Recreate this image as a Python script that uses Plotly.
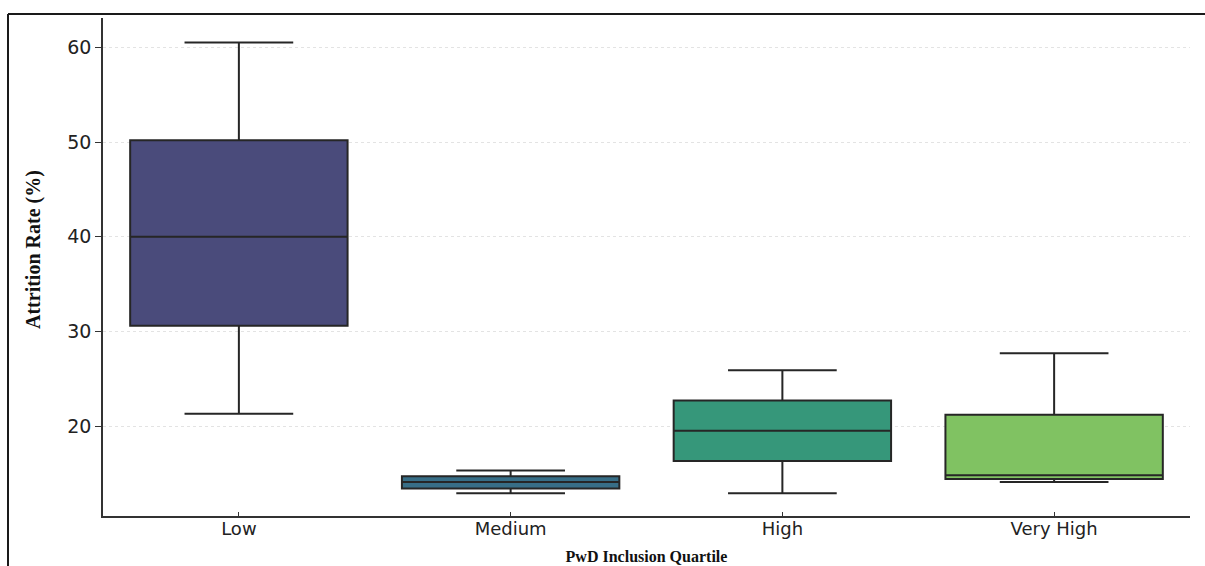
import plotly.graph_objects as go

# Attrition rate summary statistics per PwD inclusion quartile
categories = ["Low", "Medium", "High", "Very High"]
lower_whisker = [21.3, 12.9, 12.9, 14.1]
q1_values = [30.6, 13.4, 16.3, 14.4]
medians = [40.0, 14.1, 19.5, 14.8]
q3_values = [50.2, 14.7, 22.7, 21.2]
upper_whisker = [60.5, 15.3, 25.9, 27.7]
fill_colors = ["#4a4b7b", "#376e87", "#36977a", "#80c262"]
y_ticks = [20, 30, 40, 50, 60]

fig = go.Figure()
for i, cat in enumerate(categories):
    fig.add_trace(go.Box(
        x=[cat],
        q1=[q1_values[i]],
        median=[medians[i]],
        q3=[q3_values[i]],
        lowerfence=[lower_whisker[i]],
        upperfence=[upper_whisker[i]],
        fillcolor=fill_colors[i],
        line=dict(color="#262626", width=2),
        width=0.8,
        whiskerwidth=0.5,
        boxpoints=False,
        showlegend=False,
        hoverinfo="skip",
    ))

# outer frame: only the top and left edges fall inside the canvas
frame_left = (8 - 103) / 1087
frame_right = (1205 - 103) / 1087
frame_top = (516 - 14) / 498

fig.update_layout(
    width=1205,
    height=566,
    margin=dict(l=103, r=15, t=18, b=50, autoexpand=False),
    paper_bgcolor="white",
    plot_bgcolor="white",
    boxmode="overlay",
    font=dict(family="DejaVu Sans", color="#222222"),
    xaxis=dict(
        categoryorder="array",
        categoryarray=categories,
        range=[-0.5, 3.5],
        showline=True,
        linecolor="#333333",
        linewidth=1.5,
        ticks="inside",
        ticklen=4,
        tickcolor="#333333",
        ticklabelstandoff=-4,
        tickfont=dict(size=18, family="DejaVu Sans", color="#222222"),
        showgrid=False,
        zeroline=False,
        automargin=False,
        title=dict(
            text="<b>PwD Inclusion Quartile</b>",
            font=dict(family="Liberation Serif", size=16, color="#111111"),
            standoff=12,
        ),
    ),
    yaxis=dict(
        range=[10.5, 63.1],
        tickvals=y_ticks,
        showline=True,
        linecolor="#333333",
        linewidth=1.5,
        ticks="outside",
        ticklen=6,
        tickcolor="#333333",
        tickfont=dict(size=19, family="DejaVu Sans", color="#222222"),
        showgrid=True,
        gridcolor="rgba(215,215,215,0.7)",
        griddash="dot",
        gridwidth=1,
        zeroline=False,
        automargin=False,
        layer="above traces",
    ),
    annotations=[
        dict(
            text="<b>Attrition Rate (%)</b>",
            textangle=-90,
            xref="paper", yref="paper",
            x=(33 - 103) / 1087, y=(516 - 250) / 498,
            xanchor="center", yanchor="middle",
            showarrow=False,
            font=dict(family="Liberation Serif", size=20, color="#111111"),
        ),
    ],
    shapes=[
        dict(type="line", xref="paper", yref="paper",
             x0=frame_left, x1=frame_right, y0=frame_top, y1=frame_top,
             line=dict(color="#1a1a1a", width=2), layer="below"),
        dict(type="line", xref="paper", yref="paper",
             x0=frame_left, x1=frame_left, y0=-0.2, y1=frame_top,
             line=dict(color="#1a1a1a", width=2), layer="below"),
    ],
)

fig.write_html(
    "out.html",
    config=dict(displayModeBar=False),
    post_script="document.body.style.margin='0';document.body.style.overflow='hidden';",
)
